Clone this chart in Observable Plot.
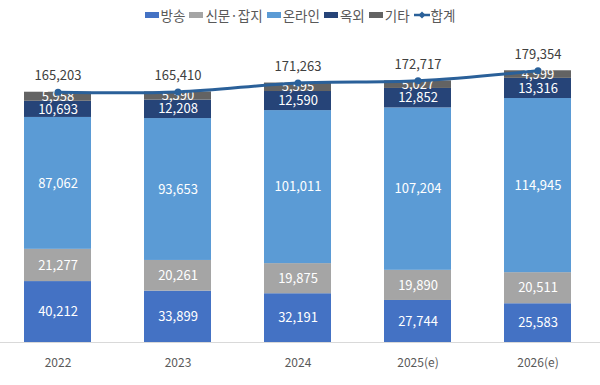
<!DOCTYPE html>
<html><head><meta charset="utf-8">
<script src="https://cdn.jsdelivr.net/npm/d3@7"></script>
<script src="https://cdn.jsdelivr.net/npm/@observablehq/plot@0.6"></script>
<style>
body{margin:0;background:#fff;font-family:"Noto Sans CJK KR","Noto Sans",sans-serif;}
#legend{height:30px;display:flex;justify-content:center;align-items:center;font-size:13.5px;color:#595959;}
.item{display:flex;align-items:center;margin:0 2px;}
.sw{display:inline-block;width:14px;height:6px;margin-right:2px;}
</style></head><body>
<div id="legend"></div><div id="chart"></div>
<script>
const years = ["2022","2023","2024","2025(e)","2026(e)"];
const categories = ["방송","신문·잡지","온라인","옥외","기타"];
const broadcast = [40212,33899,32191,27744,25583];
const printMedia = [21277,20261,19875,19890,20511];
const online = [87062,93653,101011,107204,114945];
const outdoor = [10693,12208,12590,12852,13316];
const other = [5958,5390,5595,5027,4999];
const totals = [165203,165410,171263,172717,179354];
const totalLabel = "합계";
const colors = ["#4472C4","#A5A5A5","#5B9BD5","#264478","#636363"];
const lineColor = "#2A6099";

const series = [broadcast, printMedia, online, outdoor, other];
const rows = [];
years.forEach((yr,i)=>categories.forEach((c,j)=>rows.push({year:yr,cat:c,value:series[j][i]})));
const tot = years.map((yr,i)=>({year:yr,total:totals[i]}));
const fmt = d3.format(",");

const legend = document.getElementById("legend");
categories.forEach((c,j)=>{
  const it = document.createElement("span"); it.className="item";
  it.innerHTML = `<span class="sw" style="background:${colors[j]}"></span>${c}`;
  legend.appendChild(it);
});
const li = document.createElement("span"); li.className="item";
li.innerHTML = `<svg width="16" height="10" style="margin-right:1px"><line x1="0" y1="5" x2="16" y2="5" stroke="${lineColor}" stroke-width="2.5"/><path d="M8 1.5L11.5 5L8 8.5L4.5 5Z" fill="${lineColor}"/></svg>${totalLabel}`;
legend.appendChild(li);

const chart = Plot.plot({
  width: 600, height: 355,
  marginTop: 9, marginBottom: 43, marginLeft: 0, marginRight: 0,
  style: {fontFamily: '"Noto Sans CJK KR","Noto Sans",sans-serif', background: "#fff"},
  x: {domain: years, range: [-3, 599], paddingInner: 0.44, paddingOuter: 0.22, label: null, axis: null},
  y: {domain: [0, 200000], axis: null},
  color: {domain: categories, range: colors},
  marks: [
    Plot.barY(rows, {x: "year", y: "value", fill: "cat"}),
    Plot.ruleY([0], {stroke: "#d9d9d9", strokeWidth: 1}),
    Plot.axisX({tickSize: 0, tickPadding: 16, fontSize: 12, fill: "#595959", label: null}),
    Plot.text(rows, Plot.stackY({x: "year", y: "value", text: d => fmt(d.value), fill: "white", fontSize: 13})),
    Plot.line(tot, {x: "year", y: "total", stroke: lineColor, strokeWidth: 3, curve: "catmull-rom"}),
    Plot.dot(tot, {x: "year", y: "total", fill: lineColor, r: 3.5}),
    Plot.text(tot, {x: "year", y: "total", text: d => fmt(d.total), dy: -16, fill: "#404040", fontSize: 13})
  ]
});
document.getElementById("chart").appendChild(chart);
</script>
</body></html>
